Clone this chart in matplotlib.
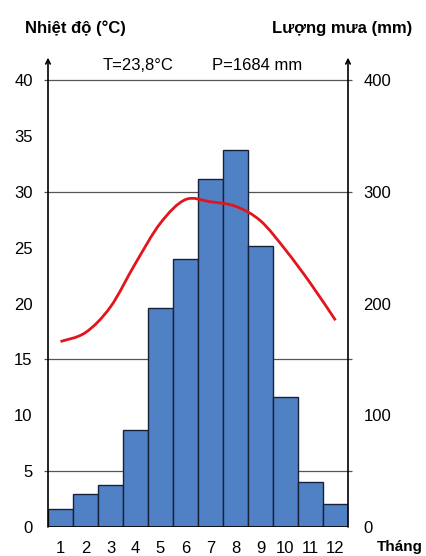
import matplotlib.pyplot as plt
import numpy as np
from matplotlib.path import Path
from matplotlib.patches import PathPatch

# data
months = list(range(1, 13))
rain = [16, 29.5, 37.6, 86.8, 196, 240, 311, 337.6, 251.7, 116, 40, 20.3]
temp = [16.6, 17.4, 19.7, 23.6, 27.2, 29.3, 29.1, 28.7, 27.4, 24.8, 21.8, 18.5]
temp_ticks = [0, 5, 10, 15, 20, 25, 30, 35, 40]
rain_ticks = [0, 100, 200, 300, 400]
grid_levels = [5, 15, 30, 40]

plt.rcParams['font.family'] = ['Liberation Sans', 'DejaVu Sans']

fig = plt.figure(figsize=(4.27, 5.56), dpi=100)
ax = fig.add_axes([48 / 427, 1 - 527 / 556, 300 / 427, 447 / 556])

# rain bars (right axis)
ax.bar(months, rain, width=1.0, color='#4f81c4', edgecolor='#17223a', linewidth=1, zorder=2)
ax.set_ylim(0, 400)
ax.set_xlim(0.5, 12.5)
ax.set_xticks(months)
for s in ax.spines.values():
    s.set_visible(False)

# horizontal guide lines (in temperature units -> rain units)
for g in grid_levels:
    ax.hlines(g * 10, 0.32, 12.68, color='#555555', linewidth=0.9, zorder=0, clip_on=False)
ax.hlines(0, 0.5, 12.5, color='black', linewidth=1.2, zorder=3)

# temperature axis (left)
ax2 = ax.twinx()
ax2.set_ylim(0, 40)
ax2.set_yticks(temp_ticks)
ax2.yaxis.tick_left()
ax2.tick_params(axis='y', length=0, labelsize=12, pad=11)
for s in ax2.spines.values():
    s.set_visible(False)

ax.yaxis.tick_right()
ax.set_yticks(rain_ticks)
ax.tick_params(axis='both', length=0, labelsize=12)
ax.tick_params(axis='y', pad=11)
ax.tick_params(axis='x', pad=10)

# vertical axes with arrows
for xv in [0.5, 12.5]:
    ax2.annotate('', xy=(xv, 42.0), xytext=(xv, 0), xycoords='data',
                 arrowprops=dict(arrowstyle='->', color='black', lw=1.2,
                                 shrinkA=0, shrinkB=0, mutation_scale=8),
                 annotation_clip=False)

# smooth temperature curve (Catmull-Rom -> Bezier)
pts = np.column_stack([months, temp]).astype(float)
ext = np.vstack([pts[0], pts, pts[-1]])
verts = [tuple(pts[0])]
codes = [Path.MOVETO]
for i in range(len(pts) - 1):
    p0, p1, p2, p3 = ext[i], ext[i + 1], ext[i + 2], ext[i + 3]
    c1 = p1 + (p2 - p0) / 6
    c2 = p2 - (p3 - p1) / 6
    verts += [tuple(c1), tuple(c2), tuple(p2)]
    codes += [Path.CURVE4] * 3
ax2.add_patch(PathPatch(Path(verts, codes), facecolor='none', edgecolor='#e3141b', lw=2, zorder=5))

# titles and notes
fig.text(75 / 427, 1 - 28 / 556, 'Nhiệt độ (°C)', ha='center', va='center', fontsize=12, fontweight='bold')
fig.text(342 / 427, 1 - 28 / 556, 'Lượng mưa (mm)', ha='center', va='center', fontsize=12, fontweight='bold')
fig.text(138 / 427, 1 - 66 / 556, 'T=23,8°C', ha='center', va='center', fontsize=12)
fig.text(257 / 427, 1 - 66 / 556, 'P=1684 mm', ha='center', va='center', fontsize=12)
fig.text(400 / 427, 1 - 547 / 556, 'Tháng', ha='center', va='center', fontsize=11, fontweight='bold')

plt.savefig('out.png', dpi=100)
